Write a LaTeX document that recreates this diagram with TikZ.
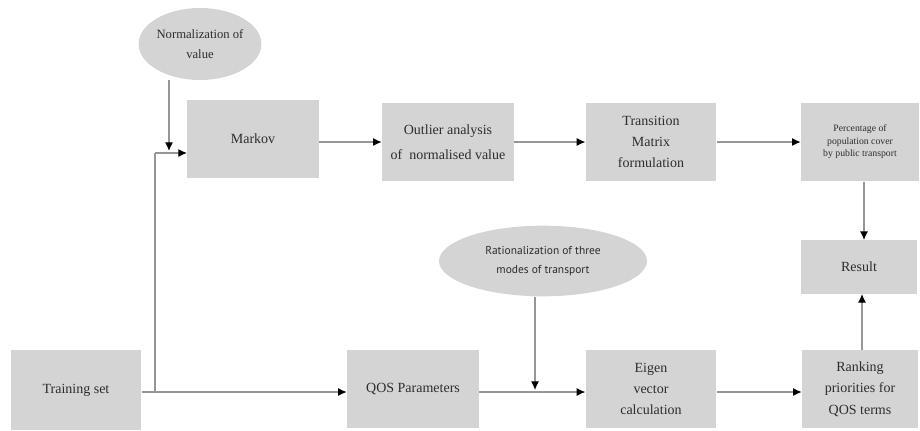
\documentclass[tikz,border=0pt]{standalone}
\usepackage{fontspec}
\setmainfont{Liberation Serif}
\newfontfamily\ptsans{PT Sans}
\usetikzlibrary{arrows.meta,shapes.geometric,positioning}
\definecolor{boxgray}{RGB}{212,212,212}
\definecolor{linegray}{RGB}{150,150,150}
\definecolor{txtgray}{RGB}{45,45,45}
\tikzset{
  stepbox/.style={rectangle, fill=boxgray, text=txtgray, align=center, inner sep=0pt,
    font=\fontsize{10.5}{16}\selectfont},
  inputoval/.style={ellipse, fill=boxgray, text=txtgray, align=center, inner sep=0pt},
  flow/.style={draw=linegray, line width=0.9pt, -{Latex[black, length=6.5pt, width=6pt]}},
  plain/.style={draw=linegray, line width=0.9pt}
}

\begin{document}
\begin{tikzpicture}[x=0.75pt,y=0.75pt,yscale=-1,xscale=1]
\useasboundingbox (0,0) rectangle (920,430);

% Ellipses
\node[inputoval, minimum width=82.5pt, minimum height=54pt, font=\fontsize{9.5}{15}\selectfont] (norm) at (200,44) {Normalization of\\value};
\node[inputoval, minimum width=156pt, minimum height=53pt, font=\ptsans\fontsize{8.6}{14.5}\selectfont] (ratio) at (543,261) {Rationalization of three\\modes of transport};

% Top row
\node[stepbox, minimum width=99pt, minimum height=59pt] (markov) at (253,139) {Markov};
\node[stepbox, minimum width=99pt, minimum height=59pt, font=\fontsize{10.5}{19}\selectfont] (outlier) at (448,142) {Outlier analysis\\of~ normalised value};
\node[stepbox, minimum width=98pt, minimum height=59pt, font=\fontsize{10.5}{15.5}\selectfont] (trans) at (651,142) {Transition\\Matrix\\formulation};
\node[stepbox, minimum width=88.5pt, minimum height=59pt, font=\fontsize{7.3}{9.4}\selectfont] (perc) at (860,142) {Percentage of\\population cover\\by public transport};

% Right column
\node[stepbox, minimum width=87pt, minimum height=40pt] (result) at (859,267) {Result};

% Bottom row
\node[stepbox, minimum width=98pt, minimum height=60pt] (train) at (76,390) {Training set};
\node[stepbox, minimum width=99pt, minimum height=58pt] (qos) at (413,389) {QOS Parameters};
\node[stepbox, minimum width=98pt, minimum height=58pt] (eigen) at (651,389) {Eigen\\vector\\calculation};
\node[stepbox, minimum width=87pt, minimum height=58pt] (rank) at (860,389) {Ranking\\priorities for\\QOS terms};

% Junction points
\coordinate (split) at (155,392);
\coordinate (bend) at (155,153);
\coordinate (mkin) at (187,153);
\coordinate (nhit) at (169,151);
\coordinate (rhit) at (535,390);

% Connectors
\draw[plain] (train.east |- split) -- (split) -- (bend);
\draw[flow] (bend) -- (mkin);
\draw[flow] (norm.south -| nhit) -- (nhit);
\draw[flow] (split) -- (qos.west |- split);
\draw[flow] (markov.east |- outlier.west) -- (outlier.west);
\draw[flow] (outlier) -- (trans);
\draw[flow] (trans) -- (perc);
\draw[flow] (qos.east |- split) -- (eigen.west |- split);
\draw[flow] (ratio.south -| rhit) -- (rhit);
\draw[flow] (eigen.east |- split) -- (rank.west |- split);
\draw[flow] (perc.south -| 864,0) -- (result.north -| 864,0);
\draw[flow] (rank.north -| 862,0) -- (result.south -| 862,0);
\end{tikzpicture}
\end{document}
